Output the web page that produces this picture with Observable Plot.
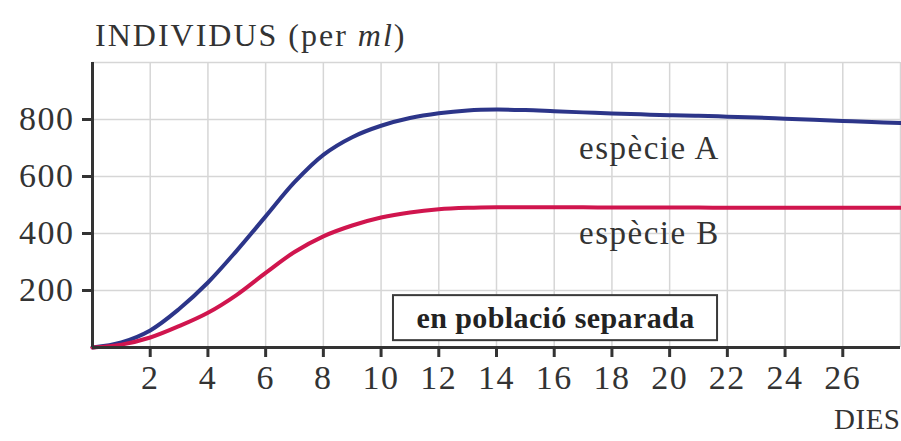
<!DOCTYPE html>
<html><head><meta charset="utf-8">
<script src="https://cdn.jsdelivr.net/npm/d3@7"></script>
<script src="https://cdn.jsdelivr.net/npm/@observablehq/plot@0.6"></script>
<style>
body{margin:0;background:#fff;width:901px;height:441px;overflow:hidden;position:relative;font-family:"Liberation Serif",serif;color:#333}
#title{position:absolute;left:95px;top:19px;font-size:32px;line-height:32px;letter-spacing:2px;white-space:nowrap;color:#333}
#chart{position:absolute;left:0;top:50px}
</style></head><body>
<div id="title">INDIVIDUS (per <i>ml</i>)</div>
<div id="chart"></div>
<script>
// data
const days     = [0, 1, 2, 3, 4, 5, 6, 7, 8, 9, 10, 11, 12, 13, 14, 15, 16, 17, 18, 19, 20, 21, 22, 23, 24, 25, 26, 27, 28];
const especieA = [0, 18, 60, 135, 228, 340, 460, 580, 676, 738, 778, 805, 822, 832, 835, 833, 829, 825, 821, 818, 815, 813, 810, 807, 803, 799, 795, 791, 788];
const especieB = [0, 10, 35, 75, 122, 185, 262, 335, 390, 428, 456, 474, 485, 490, 492, 492, 492, 492, 491, 491, 491, 491, 490, 490, 490, 490, 490, 490, 490];
const seriesNames = ["espècie A", "espècie B"];
const xTickLabels = [2, 4, 6, 8, 10, 12, 14, 16, 18, 20, 22, 24, 26];
const xGridLines  = [2, 4, 6, 8, 10, 12, 14, 16, 18, 20, 22, 24, 26, 28];
const yTickLabels = [200, 400, 600, 800];
const yGridLines  = [200, 400, 600, 800, 1000];
const xAxisTitle = "DIES";
const noteText = "en població separada";
// annotation anchors, in data units
const seriesLabelAnchors = [{day: 19.3, value: 697}, {day: 19.3, value: 400}];
const noteBox = {from: 10.43, to: 21.66, low: 24, high: 182};

const rows = [];
days.forEach((d, i) => {
  rows.push({day: d, value: especieA[i], species: seriesNames[0]});
  rows.push({day: d, value: especieB[i], species: seriesNames[1]});
});
const labels = seriesNames.map((n, i) => ({name: n, ...seriesLabelAnchors[i]}));
const note = [{text: noteText, ...noteBox}];

const ink = "#333";
const svg = Plot.plot({
  width: 901, height: 391,
  marginTop: 12, marginLeft: 92, marginRight: 1, marginBottom: 94,
  x: {domain: [0, 28]},
  y: {domain: [0, 1000]},
  color: {domain: seriesNames, range: ["#2c3589", "#d0154e"]},
  style: {fontFamily: "Liberation Serif", fontSize: "34px", color: ink, background: "transparent", overflow: "visible"},
  marks: [
    Plot.gridX(xGridLines, {stroke: "#d6d6d6", strokeOpacity: 1, strokeWidth: 1.5}),
    Plot.gridY(yGridLines, {stroke: "#d6d6d6", strokeOpacity: 1, strokeWidth: 1.5}),
    Plot.line(rows, {x: "day", y: "value", z: "species", stroke: "species", strokeWidth: 4, curve: "catmull-rom"}),
    Plot.rect(note, {x1: "from", x2: "to", y1: "low", y2: "high", fill: "white", stroke: "#3a3a3a", strokeWidth: 2}),
    Plot.text(note, {x: d => (d.from + d.to) / 2, y: d => (d.low + d.high) / 2, text: "text", fontWeight: "bold", fontSize: 30, fill: "#222", className: "note"}),
    Plot.ruleY([0], {stroke: ink, strokeWidth: 3}),
    Plot.ruleX([0], {stroke: ink, strokeWidth: 3}),
    Plot.axisX(xTickLabels, {tickSize: 10, tickPadding: 7, strokeWidth: 3, stroke: ink, fill: ink, fontSize: 34}),
    Plot.axisY(yTickLabels, {tickSize: 10, tickPadding: 8, strokeWidth: 3, stroke: ink, fill: ink, fontSize: 34}),
    Plot.text(labels, {x: "day", y: "value", text: "name", fontSize: 33, fill: ink}),
    Plot.text([xAxisTitle], {frameAnchor: "bottom-right", dy: 81, fontSize: 29, fill: ink})
  ]
});
const s = d3.select(svg);
s.selectAll("text").style("letter-spacing", "1.5px");
s.selectAll("text").filter(function() { return this.textContent === noteText; }).style("letter-spacing", "0.4px");
s.selectAll("text").filter(function() { return this.textContent === xAxisTitle; }).style("letter-spacing", "0.5px");
document.getElementById("chart").appendChild(svg);
</script>
</body></html>
